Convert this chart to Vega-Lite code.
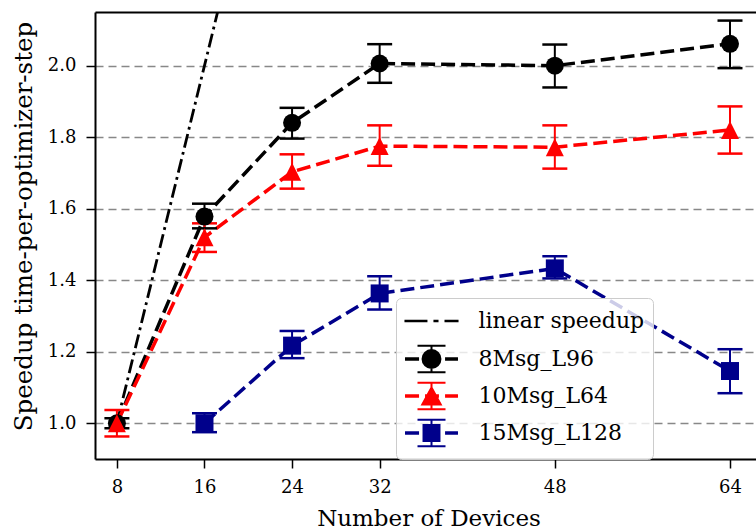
{
  "$schema": "https://vega.github.io/schema/vega-lite/v6.json",
  "width": 661,
  "height": 447,
  "autosize": {"type": "none"},
  "padding": {"left": 95, "top": 12, "right": 0, "bottom": 70},
  "background": "white",
  "data": {
    "values": [
      {"series": "linear speedup", "devices": 8, "speedup": 1},
      {"series": "linear speedup", "devices": 16, "speedup": 2},
      {"series": "linear speedup", "devices": 24, "speedup": 3},
      {"series": "linear speedup", "devices": 32, "speedup": 4},
      {"series": "linear speedup", "devices": 48, "speedup": 6},
      {"series": "linear speedup", "devices": 64, "speedup": 8},
      {"series": "8Msg_L96", "devices": 8, "speedup": 1.0, "lo": 0.986, "hi": 1.014},
      {"series": "8Msg_L96", "devices": 16, "speedup": 1.578, "lo": 1.545, "hi": 1.614},
      {"series": "8Msg_L96", "devices": 24, "speedup": 1.84, "lo": 1.796, "hi": 1.882},
      {"series": "8Msg_L96", "devices": 32, "speedup": 2.006, "lo": 1.952, "hi": 2.06},
      {"series": "8Msg_L96", "devices": 48, "speedup": 2.0, "lo": 1.939, "hi": 2.059},
      {"series": "8Msg_L96", "devices": 64, "speedup": 2.061, "lo": 1.993, "hi": 2.126},
      {"series": "10Msg_L64", "devices": 8, "speedup": 1.0, "lo": 0.963, "hi": 1.037},
      {"series": "10Msg_L64", "devices": 16, "speedup": 1.52, "lo": 1.479, "hi": 1.559},
      {"series": "10Msg_L64", "devices": 24, "speedup": 1.703, "lo": 1.656, "hi": 1.752},
      {"series": "10Msg_L64", "devices": 32, "speedup": 1.775, "lo": 1.72, "hi": 1.833},
      {"series": "10Msg_L64", "devices": 48, "speedup": 1.772, "lo": 1.712, "hi": 1.833},
      {"series": "10Msg_L64", "devices": 64, "speedup": 1.82, "lo": 1.754, "hi": 1.886},
      {"series": "15Msg_L128", "devices": 16, "speedup": 1.0, "lo": 0.975, "hi": 1.028},
      {"series": "15Msg_L128", "devices": 24, "speedup": 1.217, "lo": 1.182, "hi": 1.258},
      {"series": "15Msg_L128", "devices": 32, "speedup": 1.363, "lo": 1.318, "hi": 1.411},
      {"series": "15Msg_L128", "devices": 48, "speedup": 1.433, "lo": 1.405, "hi": 1.467},
      {"series": "15Msg_L128", "devices": 64, "speedup": 1.146, "lo": 1.084, "hi": 1.207}
    ]
  },
  "resolve": {"axis": {"x": "independent"}},
  "layer": [
    {
      "transform": [{"filter": "datum.series === 'linear speedup'"}],
      "mark": {"type": "line", "strokeWidth": 2.8, "strokeDash": [14, 4.5, 2.8, 4.5], "clip": true},
      "encoding": {
        "x": {"field": "devices", "type": "quantitative", "scale": {"domain": [6, 66.375], "nice": false, "zero": false},
              "axis": {"orient": "top", "labels": false, "ticks": false, "grid": false, "domain": true, "title": null}},
        "y": {"field": "speedup", "type": "quantitative", "scale": {"domain": [0.9, 2.15], "nice": false, "zero": false},
              "axis": {"values": [1.0, 1.2, 1.4, 1.6, 1.8, 2.0], "format": ".1f", "title": "Speedup time-per-optimizer-step",
                       "grid": true, "gridColor": "#888888", "gridDash": [8, 5], "gridWidth": 1.5,
                       "labelPadding": 10, "titleX": -63.5, "titleY": 214, "titleBaseline": "alphabetic", "titleAlign": "center",
                       "titleAngle": 270, "titleFontSize": 24.5}},
        "color": {"field": "series", "type": "nominal",
                  "scale": {"domain": ["8Msg_L96", "10Msg_L64", "15Msg_L128", "linear speedup"], "range": ["black", "#ff0000", "#00008b", "black"]},
                  "legend": null}
      }
    },
    {
      "transform": [{"filter": "datum.series !== 'linear speedup'"}],
      "mark": {"type": "line", "strokeWidth": 3.5, "strokeDash": [14, 6]},
      "encoding": {
        "x": {"field": "devices", "type": "quantitative",
              "axis": {"orient": "bottom", "values": [8, 16, 24, 32, 48, 64], "title": "Number of Devices", "grid": false,
                       "labelBaseline": "alphabetic", "labelPadding": 24.5,
                       "titleX": 333.5, "titleY": 66, "titleBaseline": "alphabetic", "titleFontSize": 23}},
        "y": {"field": "speedup", "type": "quantitative"},
        "color": {"field": "series", "type": "nominal", "legend": null}
      }
    },
    {
      "transform": [{"filter": "isValid(datum.lo)"}],
      "mark": {"type": "rule", "strokeWidth": 2},
      "encoding": {
        "x": {"field": "devices", "type": "quantitative", "axis": null},
        "y": {"field": "lo", "type": "quantitative"},
        "y2": {"field": "hi"},
        "color": {"field": "series", "type": "nominal", "legend": null}
      }
    },
    {
      "transform": [{"filter": "isValid(datum.hi)"}],
      "mark": {"type": "tick", "orient": "horizontal", "size": 25, "thickness": 2.5, "opacity": 1},
      "encoding": {
        "x": {"field": "devices", "type": "quantitative", "axis": null},
        "y": {"field": "hi", "type": "quantitative"},
        "color": {"field": "series", "type": "nominal", "legend": null}
      }
    },
    {
      "transform": [{"filter": "isValid(datum.lo)"}],
      "mark": {"type": "tick", "orient": "horizontal", "size": 25, "thickness": 2.5, "opacity": 1},
      "encoding": {
        "x": {"field": "devices", "type": "quantitative", "axis": null},
        "y": {"field": "lo", "type": "quantitative"},
        "color": {"field": "series", "type": "nominal", "legend": null}
      }
    },
    {
      "transform": [{"filter": "datum.series === '8Msg_L96'"}],
      "mark": {"type": "point", "shape": "circle", "filled": true, "opacity": 1, "size": 324, "strokeWidth": 0},
      "encoding": {
        "x": {"field": "devices", "type": "quantitative", "axis": null},
        "y": {"field": "speedup", "type": "quantitative"},
        "color": {"field": "series", "type": "nominal", "legend": null}
      }
    },
    {
      "transform": [{"filter": "datum.series === '10Msg_L64'"}],
      "mark": {"type": "point", "shape": "M0,-1L1,1L-1,1Z", "filled": true, "opacity": 1, "size": 324, "strokeWidth": 0},
      "encoding": {
        "x": {"field": "devices", "type": "quantitative", "axis": null},
        "y": {"field": "speedup", "type": "quantitative"},
        "color": {"field": "series", "type": "nominal", "legend": null}
      }
    },
    {
      "transform": [{"filter": "datum.series === '15Msg_L128'"}],
      "mark": {"type": "point", "shape": "square", "filled": true, "opacity": 1, "size": 324, "strokeWidth": 0},
      "encoding": {
        "x": {"field": "devices", "type": "quantitative", "axis": null},
        "y": {"field": "speedup", "type": "quantitative"},
        "color": {"field": "series", "type": "nominal", "legend": null}
      }
    },
    {
      "description": "Key layer: its fill, stroke and shape scales build the legend; the marks themselves stay transparent.",
      "mark": {"type": "point", "filled": true, "opacity": 0, "size": 784, "strokeWidth": 2},
      "encoding": {
        "x": {"field": "devices", "type": "quantitative", "axis": null},
        "y": {"field": "speedup", "type": "quantitative"},
        "fill": {"field": "series", "type": "nominal",
                 "scale": {"domain": ["linear speedup", "8Msg_L96", "10Msg_L64", "15Msg_L128"], "range": ["black", "black", "#ff0000", "#00008b"]},
                 "legend": {"orient": "none", "legendX": 301, "legendY": 286, "title": null, "labelFont": "DejaVu Serif"}},
        "stroke": {"field": "series", "type": "nominal",
                   "scale": {"domain": ["linear speedup", "8Msg_L96", "10Msg_L64", "15Msg_L128"], "range": ["black", "black", "#ff0000", "#00008b"]},
                   "legend": {"orient": "none", "legendX": 301, "legendY": 286, "title": null, "labelFont": "DejaVu Serif"}},
        "shape": {"field": "series", "type": "nominal",
                  "scale": {"domain": ["linear speedup", "8Msg_L96", "10Msg_L64", "15Msg_L128"],
                            "range": [
                              "M-1.86,-0.02H-0.36V0.02H-1.86ZM0.21,-0.02H0.43V0.02H0.21ZM1,-0.02H1.86V0.02H1ZM0,-1.02M0,1.02",
                              "M-1.82,-0.054H-0.96V0.054H-1.82ZM-0.39,-0.054H0.46V0.054H-0.39ZM1.04,-0.054H1.82V0.054H1.04ZM0,-0.95V0.95M-1,-0.95H1M-1,0.95H1M0.64,0A0.64 0.64 0 1 1 -0.64,0A0.64 0.64 0 1 1 0.64,0Z",
                              "M-1.82,-0.054H-0.96V0.054H-1.82ZM-0.39,-0.054H0.46V0.054H-0.39ZM1.04,-0.054H1.82V0.054H1.04ZM0,-0.95V0.95M-1,-0.95H1M-1,0.95H1M0,-0.6L0.66,0.6L-0.66,0.6Z",
                              "M-1.82,-0.054H-0.96V0.054H-1.82ZM-0.39,-0.054H0.46V0.054H-0.39ZM1.04,-0.054H1.82V0.054H1.04ZM0,-0.95V0.95M-1,-0.95H1M-1,0.95H1M-0.57,-0.57H0.57V0.57H-0.57Z"
                            ]},
                  "legend": {"orient": "none", "legendX": 301, "legendY": 286, "title": null, "labelFont": "DejaVu Serif"}}
      }
    }
  ],
  "config": {
    "view": {"stroke": null},
    "axis": {
      "labelFont": "DejaVu Serif", "labelFontSize": 18, "labelColor": "black",
      "titleFont": "DejaVu Serif", "titleFontWeight": "normal", "titleColor": "black",
      "domainColor": "black", "domainWidth": 2,
      "tickColor": "black", "tickWidth": 1.5, "tickSize": 9
    },
    "legend": {
      "labelFont": "DejaVu Serif", "labelFontSize": 22, "labelColor": "black", "labelLimit": 0,
      "fillColor": "rgba(255,255,255,0.8)", "strokeColor": "#cccccc", "cornerRadius": 5,
      "symbolSize": 784, "symbolOffset": 12.5, "labelOffset": 32, "symbolOpacity": 1, "symbolStrokeWidth": 2,
      "padding": 8, "rowPadding": 1
    }
  }
}
